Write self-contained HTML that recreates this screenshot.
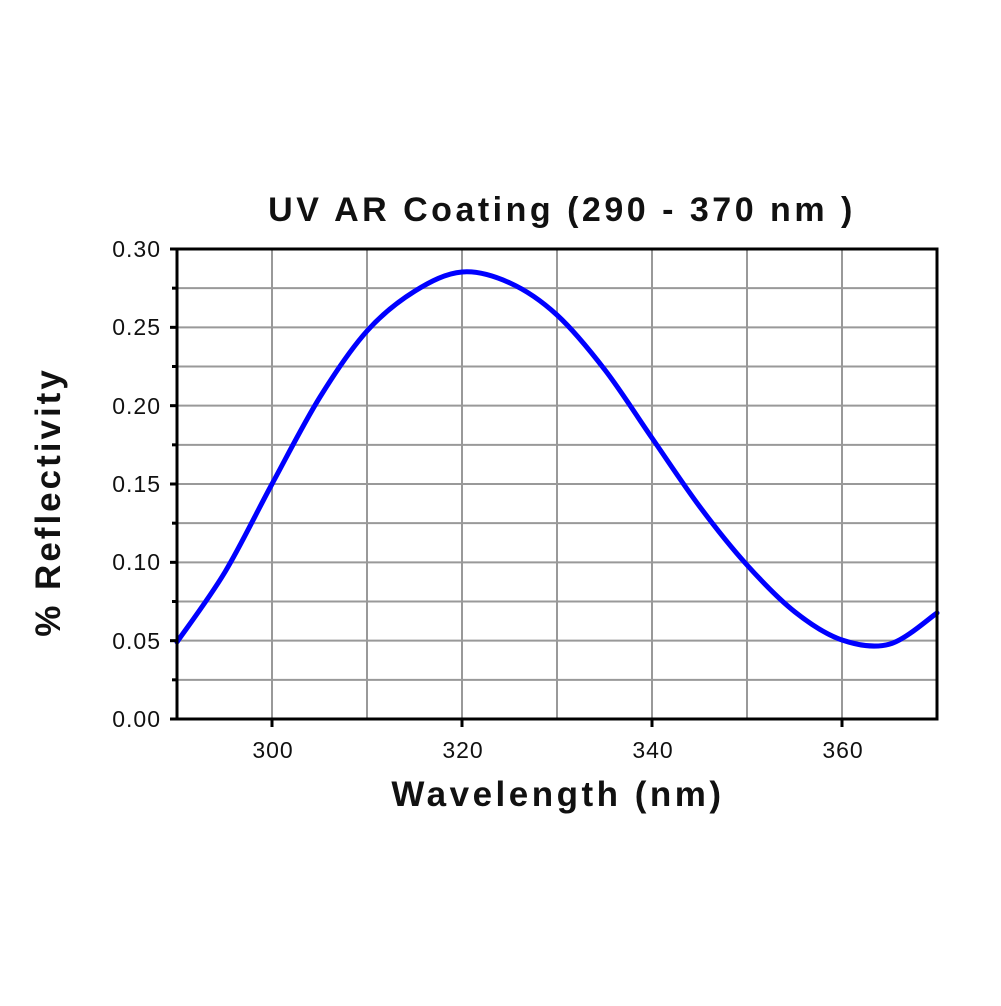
<!DOCTYPE html>
<html><head><style>body{margin:0;background:#fff}</style></head><body>
<svg id="s" width="1001" height="1001" xmlns="http://www.w3.org/2000/svg" font-family="Liberation Sans, Arial, sans-serif">
<rect width="1001" height="1001" fill="#fff"/>
<g id="grid" stroke="#999" stroke-width="2"></g>
<path id="c" fill="none" stroke="#0000ff" stroke-width="5" stroke-linejoin="round" stroke-linecap="round"/>
<g stroke="#000" stroke-width="3" fill="none">
<rect x="177" y="249" width="760" height="470"/>
</g>
<g id="ticks" stroke="#000" stroke-width="3"></g>
<g font-size="23" fill="#111" text-anchor="end" letter-spacing="1">
<text x="161" y="257">0.30</text>
<text x="161" y="335">0.25</text>
<text x="161" y="414">0.20</text>
<text x="161" y="492">0.15</text>
<text x="161" y="570">0.10</text>
<text x="161" y="649">0.05</text>
<text x="161" y="727">0.00</text>
</g>
<g font-size="23" fill="#111" text-anchor="middle" letter-spacing="1">
<text x="273" y="758">300</text>
<text x="463" y="758">320</text>
<text x="653" y="758">340</text>
<text x="843" y="758">360</text>
</g>
<text x="562" y="221" font-size="34" font-weight="bold" text-anchor="middle" letter-spacing="3.5" fill="#111">UV AR Coating (290 - 370 nm )</text>
<text x="558" y="806" font-size="35" font-weight="bold" text-anchor="middle" letter-spacing="3.5" fill="#111">Wavelength (nm)</text>
<text transform="translate(60,502) rotate(-90)" font-size="35" font-weight="bold" text-anchor="middle" letter-spacing="3" fill="#111">% Reflectivity</text>
</svg>
<script>
var ns="http://www.w3.org/2000/svg",g=document.getElementById('grid'),t=document.getElementById('ticks');
function ln(p,x1,y1,x2,y2){var l=document.createElementNS(ns,'line');l.setAttribute('x1',x1);l.setAttribute('y1',y1);l.setAttribute('x2',x2);l.setAttribute('y2',y2);p.appendChild(l);}
for(var i=1;i<8;i++){var x=177+i*95;ln(g,x,249,x,719);}
for(var i=1;i<12;i++){var y=249+i*470/12;ln(g,177,y,937,y);ln(t,i%2?172:170,y,177,y);}
ln(t,170,249,177,249);ln(t,170,719,177,719);
for(var i=1;i<=7;i+=2){var x=177+i*95;ln(t,x,719,x,727);}
var P=[[177,642],[225,572],[272,484],[320,397],[367,331],[415,291],[462,272],[510,283],[557,315],[605,370],[652,438],[700,507],[747,565],[795,612],[842,640],[890,644],[937,613]];
var d="M"+P[0];
for(var i=0;i<P.length-1;i++){var p0=P[Math.max(0,i-1)],p1=P[i],p2=P[i+1],p3=P[Math.min(P.length-1,i+2)];
d+=" C"+(p1[0]+(p2[0]-p0[0])/6)+","+(p1[1]+(p2[1]-p0[1])/6)+" "+(p2[0]-(p3[0]-p1[0])/6)+","+(p2[1]-(p3[1]-p1[1])/6)+" "+p2[0]+","+p2[1];}
document.getElementById('c').setAttribute('d',d);
</script>
</body></html>
